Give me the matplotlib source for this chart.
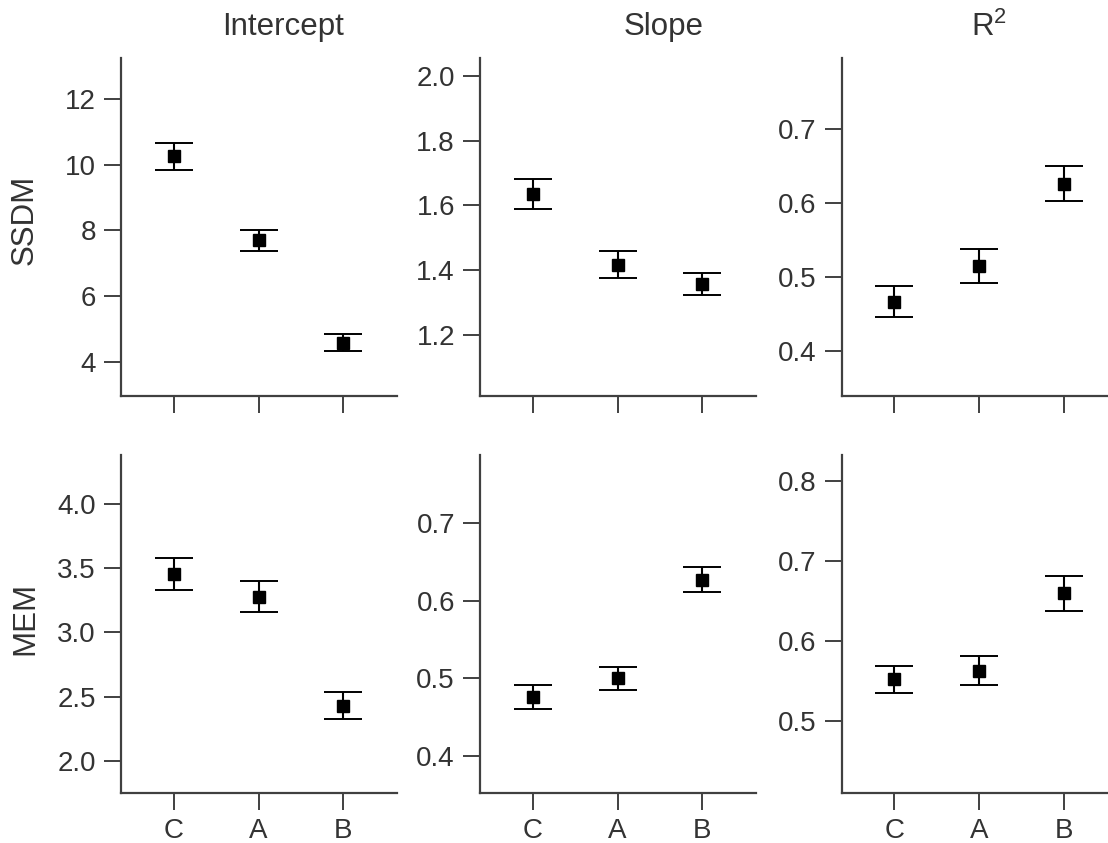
import numpy as np
import matplotlib
matplotlib.use("Agg")
import matplotlib.pyplot as plt
from matplotlib.ticker import FormatStrFormatter

plt.rcParams['font.family'] = ['Liberation Sans', 'DejaVu Sans']
plt.rcParams['mathtext.default'] = 'regular'

categories = ['C', 'A', 'B']

# top row: SSDM
ssdm_intercept = [10.25, 7.69, 4.58]
ssdm_intercept_err = [0.42, 0.33, 0.27]
ssdm_slope = [1.636, 1.417, 1.357]
ssdm_slope_err = [0.047, 0.043, 0.033]
ssdm_r2 = [0.467, 0.515, 0.626]
ssdm_r2_err = [0.021, 0.023, 0.023]

# bottom row: MEM
mem_intercept = [3.455, 3.278, 2.43]
mem_intercept_err = [0.128, 0.12, 0.105]
mem_slope = [0.476, 0.500, 0.627]
mem_slope_err = [0.015, 0.015, 0.016]
mem_r2 = [0.552, 0.563, 0.660]
mem_r2_err = [0.017, 0.018, 0.022]

col_titles = ['Intercept', 'Slope', 'R$^2$']
row_labels = ['SSDM', 'MEM']

panels = [
    # (row, col, values, errors, yticks, ylim, fmt)
    (0, 0, ssdm_intercept, ssdm_intercept_err, [4, 6, 8, 10, 12], (2.95, 13.25), '%d'),
    (0, 1, ssdm_slope, ssdm_slope_err, [1.2, 1.4, 1.6, 1.8, 2.0], (1.01, 2.056), '%.1f'),
    (0, 2, ssdm_r2, ssdm_r2_err, [0.4, 0.5, 0.6, 0.7], (0.340, 0.795), '%.1f'),
    (1, 0, mem_intercept, mem_intercept_err, [2.0, 2.5, 3.0, 3.5, 4.0], (1.753, 4.384), '%.1f'),
    (1, 1, mem_slope, mem_slope_err, [0.4, 0.5, 0.6, 0.7], (0.353, 0.788), '%.1f'),
    (1, 2, mem_r2, mem_r2_err, [0.5, 0.6, 0.7, 0.8], (0.410, 0.8335), '%.1f'),
]

fig = plt.figure(figsize=(11.08, 8.43), dpi=100)

# the right column runs past the figure edge
col_left = [0.1092, 0.4332, 0.7597]
col_width = 0.249
row_bottom = [0.5302, 0.0597]
row_height = 0.401

spine_color = '#404040'
text_color = '#333333'
x = np.arange(len(categories))

for row, col, vals, errs, yticks, ylim, fmt in panels:
    ax = fig.add_axes([col_left[col], row_bottom[row], col_width, row_height])
    ax.errorbar(x, vals, yerr=errs, fmt='s', color='black', markersize=8.5,
                ecolor='black', elinewidth=1.5, capsize=14, capthick=1.4)
    ax.set_xlim(-0.62, 2.63)
    ax.set_ylim(*ylim)
    ax.set_yticks(yticks)
    ax.yaxis.set_major_formatter(FormatStrFormatter(fmt))
    ax.set_xticks(x)
    if row == 1:
        ax.set_xticklabels(categories)
    else:
        ax.set_xticklabels([])
    for side in ['top', 'right']:
        ax.spines[side].set_visible(False)
    for side in ['left', 'bottom']:
        ax.spines[side].set_color(spine_color)
        ax.spines[side].set_linewidth(1.6)
    ax.tick_params(direction='out', length=12, width=1.4, color=spine_color,
                   labelsize=20, labelcolor=text_color, pad=6)

# row labels, lined up at the same x
row_label_y = [1 - 220 / 843, 1 - 618 / 843]
for ry, label in zip(row_label_y, row_labels):
    fig.text(25 / 1108, ry, label, rotation=90, ha='center', va='center',
             fontsize=22.5, color=text_color)

# column titles
title_x = [283 / 1108, 664 / 1108, 989 / 1108]
for tx, title in zip(title_x, col_titles):
    fig.text(tx, 1 - 27 / 843, title, ha='center', va='center',
             fontsize=22.5, color=text_color)

fig.savefig('out.png', dpi=100)
